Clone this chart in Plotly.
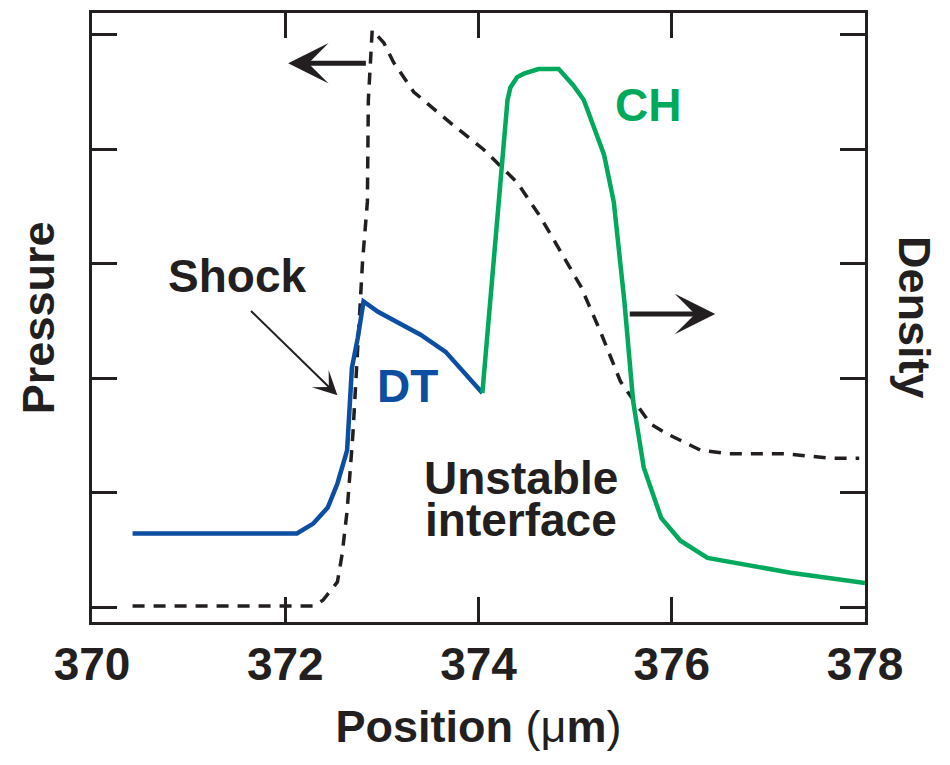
import plotly.graph_objects as go

# Pressure in the DT fuel (blue)
dt_x = [370.42, 372.12, 372.29, 372.44, 372.54, 372.64, 372.69, 372.75, 372.81,
        372.96, 373.40, 373.66, 374.04]
dt_p = [0.643, 0.643, 0.73, 0.87, 1.08, 1.37, 2.09, 2.35, 2.67,
        2.58, 2.38, 2.23, 1.87]

# Pressure in the CH ablator (green)
ch_x = [374.04, 374.30, 374.33, 374.40, 374.47, 374.62, 374.83, 374.98, 375.09,
        375.30, 375.40, 375.51, 375.60, 375.71, 375.89, 376.09, 376.37, 377.23, 378.0]
ch_p = [1.87, 4.43, 4.54, 4.63, 4.66, 4.70, 4.70, 4.56, 4.43,
        3.95, 3.54, 2.67, 1.80, 1.22, 0.78, 0.58, 0.43, 0.30, 0.21]

# Density profile (dashed)
rho_x = [370.42, 372.29, 372.39, 372.54, 372.59, 372.64, 372.67, 372.70, 372.80,
         372.85, 372.86, 372.90, 373.02, 373.12, 373.33, 373.71, 374.05, 374.40,
         374.64, 374.85, 375.06, 375.26, 375.47, 375.61, 375.78, 375.96, 376.30,
         376.58, 377.16, 377.65, 377.94]
rho_y = [0.01, 0.01, 0.06, 0.22, 0.47, 0.84, 1.17, 1.51, 3.02,
         3.54, 4.43, 5.04, 4.93, 4.76, 4.50, 4.23, 4.00, 3.71,
         3.41, 3.10, 2.80, 2.41, 1.97, 1.80, 1.60, 1.51, 1.37,
         1.34, 1.34, 1.30, 1.30]

x_ticks = [370, 372, 374, 376, 378]
y_ticks = [0, 1, 2, 3, 4, 5]

INK = "#231f20"
BLUE = "#0b4ea2"
GREEN = "#00a95c"
FONT = "Liberation Sans"

fig = go.Figure()
fig.add_trace(go.Scatter(x=rho_x, y=rho_y, mode="lines",
                         line=dict(color=INK, width=3.5, dash="12px,9px")))
fig.add_trace(go.Scatter(x=dt_x, y=dt_p, mode="lines",
                         line=dict(color=BLUE, width=4.5)))
fig.add_trace(go.Scatter(x=ch_x, y=ch_p, mode="lines",
                         line=dict(color=GREEN, width=4.5)))


def label(text, x, y, color=INK, size=46, angle=0, xref="x", yref="y"):
    fig.add_annotation(text=text, x=x, y=y, xref=xref, yref=yref,
                       xanchor="center", yanchor="middle",
                       showarrow=False, textangle=angle,
                       font=dict(family=FONT, size=size, color=color, weight="bold"))


label("Shock", 371.50, 2.89)
label("DT", 373.27, 1.93, color=BLUE)
label("CH", 375.75, 4.39, color=GREEN)
label("Unstable", 374.44, 1.13)
label("interface", 374.44, 0.76)

# Axis titles
label("Pressure", -0.069, 0.5, size=45, angle=-90, xref="paper", yref="paper")
label("Density", 1.064, 0.5, size=45, angle=90, xref="paper", yref="paper")

# Direction arrows
def arrow(x, y, ax, ay, width, size):
    fig.add_annotation(x=x, y=y, ax=ax, ay=ay, xref="x", yref="y",
                       axref="x", ayref="y", text="", showarrow=True,
                       arrowhead=3, arrowwidth=width, arrowsize=size,
                       arrowcolor=INK)


arrow(372.03, 4.75, 372.85, 4.75, 5, 1.35)
arrow(376.45, 2.56, 375.55, 2.56, 5, 1.35)
arrow(372.54, 1.85, 371.63, 2.60, 2, 2.0)

axis_common = dict(showline=True, linewidth=3, linecolor=INK, mirror="ticks",
                   ticks="inside", ticklen=25, tickwidth=2.5, tickcolor=INK,
                   showgrid=False, zeroline=False)

fig.update_xaxes(range=[370, 378], tickvals=x_ticks,
                 ticktext=[str(v) for v in x_ticks],
                 tickfont=dict(family=FONT, size=46, color=INK, weight="bold"),
                 title=dict(text="<b>Position</b> (μ<b>m</b>)",
                            font=dict(family=FONT, size=45, color=INK),
                            standoff=22),
                 **axis_common)
fig.update_yaxes(range=[-0.13, 5.19], tickvals=y_ticks, showticklabels=False,
                 **axis_common)

fig.update_layout(width=950, height=765, showlegend=False,
                  margin=dict(l=92, r=85, t=10, b=143),
                  plot_bgcolor="white", paper_bgcolor="white")

fig.write_html("out.html")
